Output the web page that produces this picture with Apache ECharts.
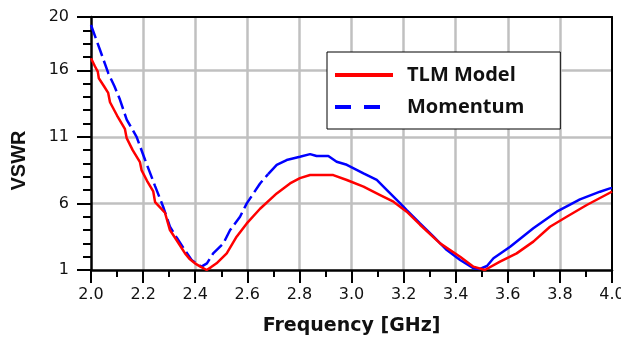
<!DOCTYPE html>
<html>
<head>
<meta charset="utf-8">
<script src="https://cdn.jsdelivr.net/npm/echarts@6/dist/echarts.min.js"></script>
<style>html,body{margin:0;padding:0;background:#fff;}#c{width:621px;height:338px;}</style>
</head>
<body>
<div id="c"></div>
<script>
// TLM Model [GHz, VSWR]
const tlmModel = [
  [2.000, 16.9], [2.015, 16.3], [2.026, 15.9], [2.030, 15.4], [2.050, 14.8],
  [2.066, 14.3], [2.073, 13.6], [2.100, 12.6], [2.130, 11.6], [2.137, 10.9],
  [2.160, 10.0], [2.188, 9.1], [2.194, 8.5], [2.215, 7.7], [2.239, 6.9],
  [2.246, 6.1], [2.265, 5.7], [2.284, 5.3], [2.303, 4.0], [2.330, 3.2],
  [2.361, 2.25], [2.380, 1.8], [2.399, 1.5], [2.420, 1.25], [2.444, 1.0],
  [2.460, 1.2], [2.482, 1.5], [2.521, 2.25], [2.559, 3.5], [2.598, 4.5],
  [2.649, 5.6], [2.713, 6.75], [2.764, 7.5], [2.802, 7.9], [2.841, 8.13],
  [2.930, 8.13], [2.982, 7.76], [3.046, 7.26], [3.110, 6.63], [3.161, 6.13],
  [3.212, 5.38], [3.263, 4.4], [3.340, 3.0], [3.417, 2.0], [3.468, 1.25],
  [3.512, 1.0], [3.570, 1.63], [3.634, 2.25], [3.698, 3.13], [3.762, 4.25],
  [3.826, 5.0], [3.903, 5.88], [3.992, 6.8], [4.000, 6.9]
];
// Momentum, dashed part [GHz, VSWR]
const momentumA = [
  [2.000, 19.4], [2.035, 17.5], [2.066, 15.8], [2.090, 14.8], [2.111, 13.8],
  [2.137, 12.3], [2.175, 11.0], [2.207, 9.3], [2.246, 7.3], [2.277, 5.75],
  [2.303, 4.25], [2.330, 3.4], [2.360, 2.5], [2.386, 1.75], [2.424, 1.25],
  [2.445, 1.5], [2.469, 2.25], [2.508, 3.0], [2.534, 4.0], [2.572, 5.0],
  [2.598, 6.0], [2.649, 7.5], [2.680, 8.2]
];
// Momentum, solid part [GHz, VSWR]
const momentumB = [
  [2.680, 8.2], [2.713, 8.9], [2.751, 9.26], [2.802, 9.5], [2.841, 9.7],
  [2.866, 9.56], [2.911, 9.56], [2.943, 9.13], [2.982, 8.9], [3.046, 8.26],
  [3.097, 7.76], [3.136, 7.0], [3.187, 6.0], [3.212, 5.5], [3.263, 4.5],
  [3.315, 3.5], [3.366, 2.5], [3.417, 1.75], [3.468, 1.13], [3.493, 1.08],
  [3.520, 1.3], [3.545, 1.88], [3.609, 2.75], [3.698, 4.13], [3.788, 5.38],
  [3.877, 6.3], [3.954, 6.88], [3.992, 7.13], [4.000, 7.15]
];
const legendNames = ['TLM Model', 'Momentum'];
const xTitle = 'Frequency [GHz]';
const yTitle = 'VSWR';

const chart = echarts.init(document.getElementById('c'), null, {renderer: 'canvas'});
const grey = '#c0c0c0';
chart.setOption({
  animation: false,
  backgroundColor: '#fff',
  grid: {left: 91, right: 9, top: 17, bottom: 68, containLabel: false, outerBoundsMode: 'none'},
  legend: {
    orient: 'vertical', left: 327, top: 52,
    padding: [13, 36, 12, 6],
    itemWidth: 58, itemHeight: 20, itemGap: 12,
    backgroundColor: '#fff', borderColor: '#000', borderWidth: 1,
    itemStyle: {opacity: 0, borderWidth: 0},
    textStyle: {fontFamily: 'Open Sans', fontWeight: 'bold', fontSize: 20, color: '#111', padding: [0, 0, 0, 9]},
    data: [
      {name: legendNames[0], lineStyle: {width: 4}, itemStyle: {opacity: 0, borderWidth: 0}},
      {name: legendNames[1], lineStyle: {width: 4, type: [16, 13]}, itemStyle: {opacity: 0, borderWidth: 0}}
    ]
  },
  xAxis: [{
    type: 'value', min: 2, max: 4, interval: 0.2, position: 'bottom',
    name: xTitle, nameLocation: 'middle', nameGap: 47,
    nameTextStyle: {fontFamily: 'DejaVu Sans', fontWeight: 'bold', fontSize: 19, color: '#111'},
    axisLine: {lineStyle: {color: '#000', width: 2.5}},
    axisTick: {show: true, inside: false, length: 13, lineStyle: {color: '#000', width: 2}},
    minorTick: {show: true, splitNumber: 2, length: 7, lineStyle: {color: '#000', width: 2}},
    splitLine: {show: true, showMinLine: false, showMaxLine: false, lineStyle: {color: grey, width: 2.5}},
    axisLabel: {formatter: v => v.toFixed(1), fontFamily: 'DejaVu Sans', fontSize: 16, color: '#111', margin: 17}
  }, {
    type: 'value', min: 2, max: 4, position: 'top',
    axisLine: {lineStyle: {color: '#000', width: 2}},
    axisTick: {show: false}, axisLabel: {show: false}, splitLine: {show: false}
  }],
  yAxis: [{
    type: 'value', min: 1, max: 20, interval: 5, position: 'left',
    name: yTitle, nameLocation: 'middle', nameGap: 62,
    nameTextStyle: {fontFamily: 'Liberation Sans', fontWeight: 'bold', fontSize: 20, color: '#111', padding: [0, 34, 0, 0]},
    axisLine: {lineStyle: {color: '#000', width: 2.5}},
    axisTick: {show: true, inside: false, length: 14, lineStyle: {color: '#000', width: 2}},
    splitLine: {show: true, showMinLine: false, showMaxLine: false, lineStyle: {color: grey, width: 2.5}},
    axisLabel: {fontFamily: 'DejaVu Sans', fontSize: 16, color: '#111', margin: 22}
  }, {
    type: 'value', min: 1, max: 20, interval: 1, position: 'left',
    axisLine: {show: false},
    axisTick: {show: true, inside: false, length: 8, lineStyle: {color: '#000', width: 2}},
    axisLabel: {show: false}, splitLine: {show: false}
  }, {
    type: 'value', min: 1, max: 20, position: 'right',
    axisLine: {show: true, lineStyle: {color: '#000', width: 2}},
    axisTick: {show: false}, axisLabel: {show: false}, splitLine: {show: false}
  }],
  series: [{
    name: legendNames[1], type: 'line', data: momentumA, symbol: 'none', showSymbol: false,
    lineStyle: {color: '#0000ff', width: 2.5, type: [14, 5]}, itemStyle: {color: '#0000ff'}
  }, {
    name: legendNames[1], type: 'line', data: momentumB, symbol: 'none', showSymbol: false,
    lineStyle: {color: '#0000ff', width: 2.5, type: 'solid'}, itemStyle: {color: '#0000ff'}
  }, {
    name: legendNames[0], type: 'line', data: tlmModel, symbol: 'none', showSymbol: false,
    lineStyle: {color: '#ff0000', width: 2.5}, itemStyle: {color: '#ff0000'}
  }]
});
</script>
</body>
</html>
